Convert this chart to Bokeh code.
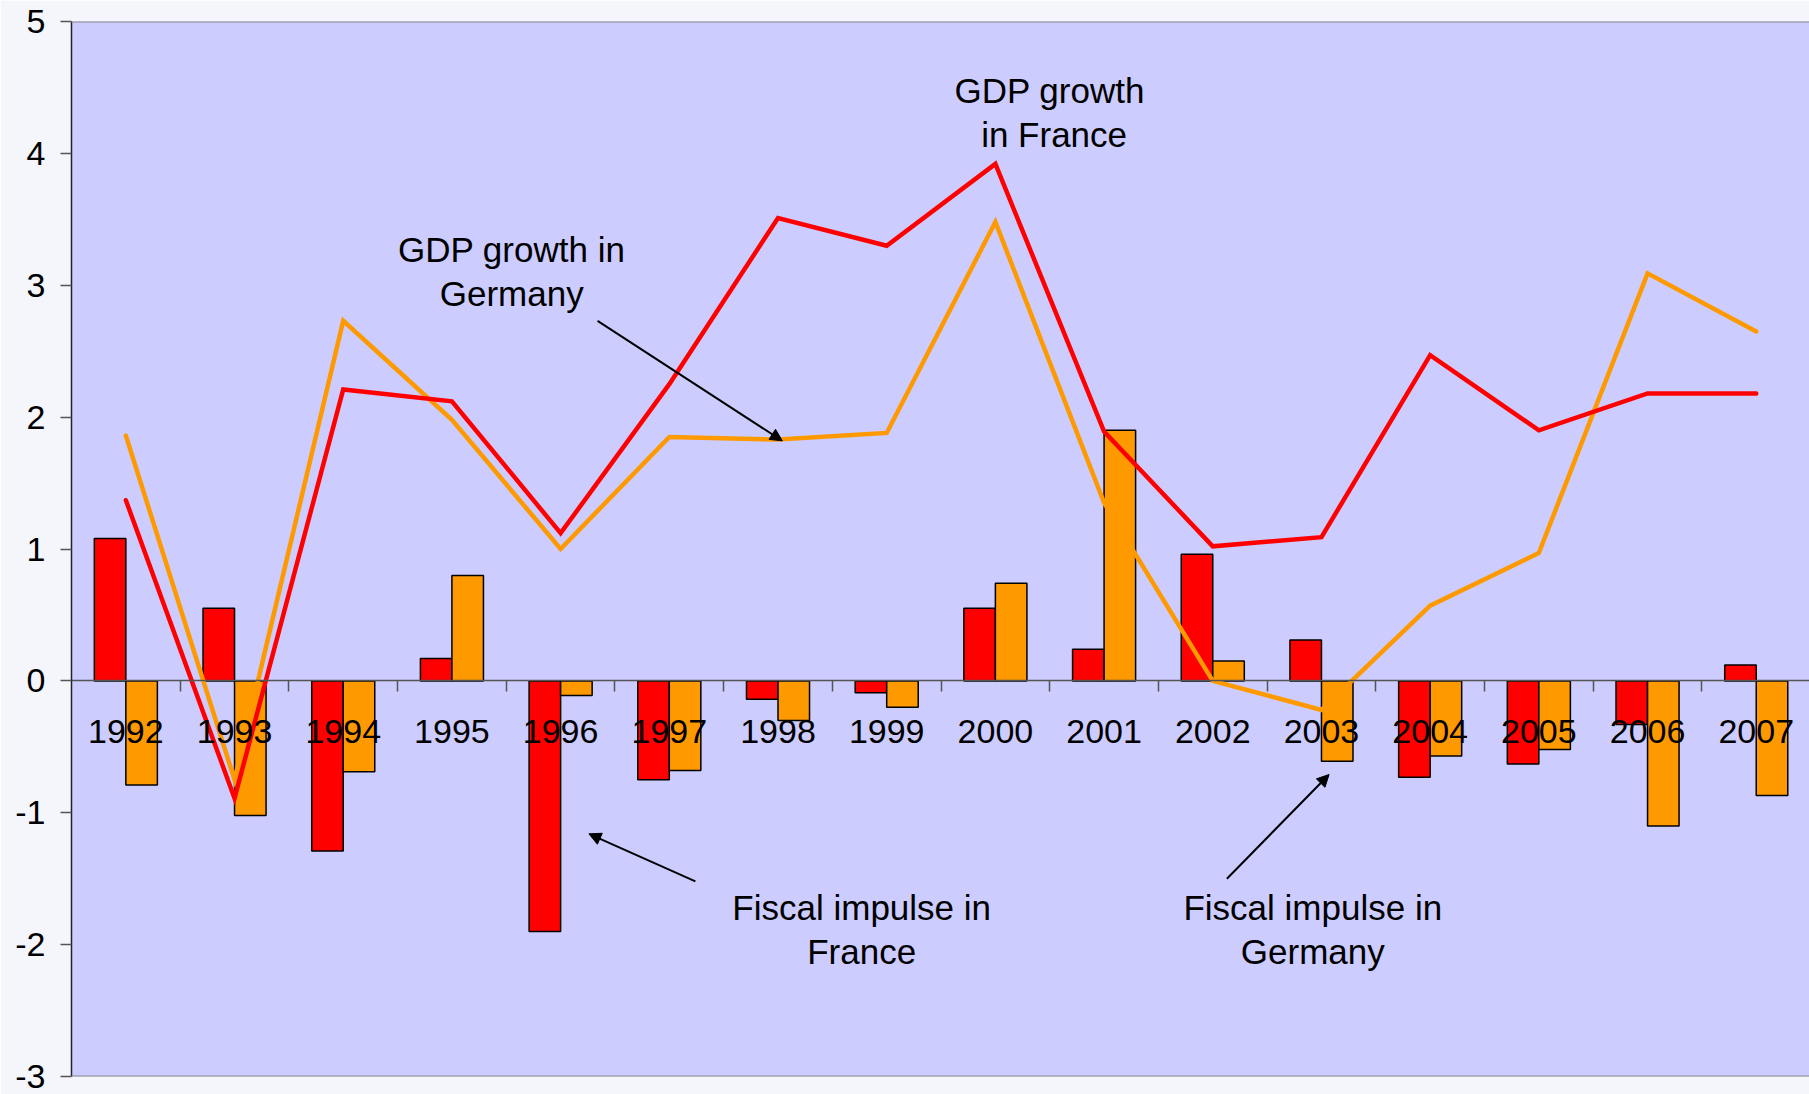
import numpy as np
from bokeh.plotting import figure
from bokeh.models import Range1d, LinearAxis, FixedTicker, Span, Arrow, NormalHead, Label
from bokeh.embed import file_html
from bokeh.resources import INLINE

# ---- data ----
years = ["1992", "1993", "1994", "1995", "1996", "1997", "1998", "1999",
         "2000", "2001", "2002", "2003", "2004", "2005", "2006", "2007"]
gdp_france = [1.37, -0.89, 2.21, 2.12, 1.12, 2.25, 3.51, 3.30,
              3.92, 1.89, 1.02, 1.09, 2.47, 1.90, 2.18, 2.18]
gdp_germany = [1.86, -0.75, 2.73, 1.98, 1.00, 1.85, 1.83, 1.88,
               3.48, 1.35, 0.00, -0.22, 0.57, 0.97, 3.09, 2.65]
fiscal_france = [1.08, 0.55, -1.29, 0.17, -1.90, -0.75, -0.14, -0.09,
                 0.55, 0.24, 0.96, 0.31, -0.73, -0.63, -0.33, 0.12]
fiscal_germany = [-0.79, -1.02, -0.69, 0.80, -0.11, -0.68, -0.30, -0.20,
                  0.74, 1.90, 0.15, -0.61, -0.57, -0.52, -1.10, -0.87]
y_ticks = [-3, -2, -1, 0, 1, 2, 3, 4, 5]

FONT = "Liberation Sans"
RED = "#FF0000"
ORANGE = "#FF9900"

n = len(years)
centers = np.arange(n) + 0.5
bar_w = 0.29

p = figure(width=1809, height=1094,
           x_range=Range1d(0, 15.99), y_range=Range1d(-3, 5),
           output_backend="svg", toolbar_location=None,
           x_axis_location=None, y_axis_location="left",
           min_border_left=71, min_border_right=0,
           min_border_top=21, min_border_bottom=18)

p.background_fill_color = "#CCCCFF"
p.border_fill_color = "#F5F5FC"
p.outline_line_color = None
p.xgrid.visible = False
p.ygrid.visible = False

# y axis
ya = p.yaxis[0]
ya.ticker = FixedTicker(ticks=y_ticks)
ya.major_label_overrides = {t: str(t) for t in y_ticks}
ya.major_label_text_font = FONT
ya.major_label_text_font_size = "34px"
ya.major_label_text_color = "black"
ya.major_label_standoff = 15
ya.axis_line_color = "#222222"
ya.axis_line_width = 1.5
ya.major_tick_out = 11
ya.major_tick_in = 0
ya.major_tick_line_color = "#555555"
ya.major_tick_line_width = 1.5
ya.minor_tick_out = 0
ya.minor_tick_in = 0

# frame top / bottom lines
p.add_layout(Span(location=5, dimension="width", line_color="#888888", line_width=2))
p.add_layout(Span(location=-3, dimension="width", line_color="#888888", line_width=2))

# bars
p.vbar(x=centers - bar_w / 2, top=fiscal_france, bottom=0, width=bar_w,
       fill_color=RED, line_color="black", line_width=1.5)
p.vbar(x=centers + bar_w / 2, top=fiscal_germany, bottom=0, width=bar_w,
       fill_color=ORANGE, line_color="black", line_width=1.5)

# category axis at zero
xa = LinearAxis(fixed_location=0,
                ticker=FixedTicker(ticks=list(centers), minor_ticks=list(np.arange(1, n))),
                major_label_overrides={float(c): y for c, y in zip(centers, years)},
                major_label_text_font=FONT, major_label_text_font_size="34px",
                major_label_text_color="black", major_label_standoff=28,
                major_tick_out=0, major_tick_in=0,
                minor_tick_out=11, minor_tick_in=0,
                minor_tick_line_color="#555555", minor_tick_line_width=1.5,
                axis_line_color="#555555", axis_line_width=1.5)
p.add_layout(xa, "below")

# lines
p.line(centers, gdp_germany, line_color=ORANGE, line_width=4.5,
       line_join="miter", line_cap="round")
p.line(centers, gdp_france, line_color=RED, line_width=4.5,
       line_join="miter", line_cap="round")

# annotations
def lab(x, y, t):
    p.add_layout(Label(x=x, y=y, text=t, text_align="center", text_baseline="middle",
                       text_font=FONT, text_font_size="35px", text_color="black"))

lab(9.00, 4.48, "GDP growth")
lab(9.04, 4.14, "in France")
lab(4.05, 3.27, "GDP growth in")
lab(4.05, 2.94, "Germany")
lab(7.27, -1.72, "Fiscal impulse in")
lab(7.27, -2.05, "France")
lab(11.42, -1.72, "Fiscal impulse in")
lab(11.42, -2.05, "Germany")

def arrow(x0, y0, x1, y1):
    p.add_layout(Arrow(end=NormalHead(size=12, fill_color="black", line_color="black", line_width=1),
                       x_start=x0, y_start=y0, x_end=x1, y_end=y1,
                       line_color="black", line_width=2))

arrow(4.84, 2.73, 6.54, 1.82)
arrow(5.74, -1.52, 4.76, -1.16)
arrow(10.63, -1.50, 11.57, -0.71)

open("out.html", "w").write(file_html(p, INLINE))
